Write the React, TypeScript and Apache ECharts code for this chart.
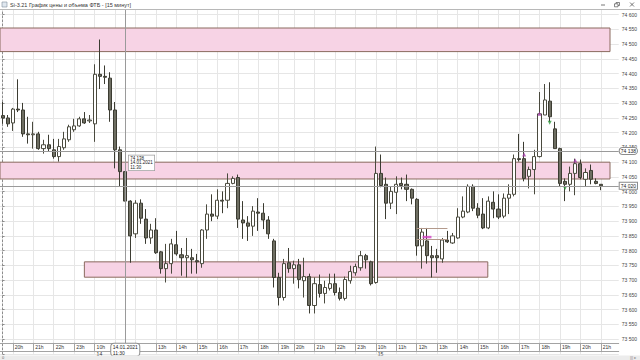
import React, { useEffect, useRef } from 'react';
import * as echarts from 'echarts';

const FONT = '"Liberation Sans", "DejaVu Sans", Arial, sans-serif';
const TITLE = 'Si-3.21 График цены и объема ФТБ - [15 минут]';

// trading sessions shown on the time axis (15-minute candles)
const SESSIONS: [string, string, string][] = [
  ['13.01.2021', '19:30', '23:45'],
  ['14.01.2021', '10:00', '18:45'],
  ['14.01.2021', '19:00', '19:30'],
  ['14.01.2021', '20:00', '23:45'],
  ['15.01.2021', '10:00', '18:45'],
  ['15.01.2021', '19:00', '21:45'],
];

// [open, close, low, high]
const candles: number[][] = [
  [74258, 74250, 74230, 74304],
  [74250, 74230, 74220, 74260],
  [74233, 74280, 74206, 74284],
  [74280, 74277, 74270, 74381],
  [74277, 74196, 74186, 74301],
  [74196, 74193, 74163, 74254],
  [74193, 74196, 74146, 74237],
  [74196, 74146, 74142, 74203],
  [74146, 74159, 74129, 74176],
  [74159, 74146, 74136, 74193],
  [74142, 74119, 74112, 74179],
  [74119, 74153, 74102, 74179],
  [74149, 74179, 74142, 74203],
  [74176, 74220, 74169, 74227],
  [74210, 74223, 74203, 74247],
  [74223, 74247, 74220, 74254],
  [74247, 74233, 74230, 74270],
  [74240, 74243, 74233, 74260],
  [74230, 74398, 74169, 74432],
  [74398, 74391, 74348, 74516],
  [74391, 74388, 74365, 74428],
  [74385, 74277, 74237, 74405],
  [74277, 74142, 74079, 74304],
  [74142, 74068, 74018, 74153],
  [74068, 73968, 73934, 74126],
  [73968, 73850, 73759, 73971],
  [73857, 73961, 73843, 73971],
  [73961, 73910, 73891, 73974],
  [73907, 73843, 73823, 73941],
  [73843, 73870, 73823, 73891],
  [73870, 73793, 73789, 73910],
  [73796, 73739, 73722, 73799],
  [73739, 73756, 73692, 73823],
  [73756, 73823, 73722, 73840],
  [73820, 73789, 73783, 73867],
  [73786, 73776, 73715, 73809],
  [73776, 73783, 73709, 73843],
  [73776, 73769, 73722, 73806],
  [73766, 73762, 73722, 73789],
  [73756, 73870, 73742, 73873],
  [73870, 73924, 73840, 73957],
  [73924, 73917, 73900, 73991],
  [73917, 73971, 73907, 74008],
  [73971, 73968, 73927, 74001],
  [73971, 74028, 73944, 74062],
  [74028, 74045, 74025, 74052],
  [74048, 73907, 73877, 74058],
  [73904, 73894, 73840, 73968],
  [73894, 73883, 73833, 73917],
  [73883, 73934, 73850, 73951],
  [73931, 73927, 73867, 73978],
  [73927, 73904, 73873, 73961],
  [73904, 73857, 73840, 73917],
  [73833, 73709, 73675, 73840],
  [73709, 73641, 73614, 73725],
  [73641, 73756, 73631, 73772],
  [73759, 73739, 73725, 73809],
  [73739, 73752, 73688, 73766],
  [73752, 73702, 73672, 73772],
  [73698, 73712, 73641, 73776],
  [73712, 73614, 73587, 73722],
  [73614, 73688, 73587, 73709],
  [73685, 73655, 73641, 73719],
  [73655, 73675, 73621, 73698],
  [73672, 73688, 73665, 73722],
  [73688, 73658, 73648, 73722],
  [73658, 73638, 73631, 73675],
  [73638, 73702, 73631, 73712],
  [73698, 73729, 73688, 73749],
  [73725, 73746, 73715, 73756],
  [73742, 73783, 73732, 73799],
  [73783, 73769, 73739, 73789],
  [73762, 73688, 73682, 73766],
  [73692, 74062, 73688, 74153],
  [74062, 74021, 74015, 74126],
  [74025, 73961, 73907, 74048],
  [73961, 74001, 73941, 74018],
  [73998, 74025, 73924, 74052],
  [74028, 74021, 74008, 74048],
  [74025, 74008, 73968, 74058],
  [74008, 73978, 73957, 74011],
  [73974, 73816, 73783, 73978],
  [73816, 73863, 73739, 73877],
  [73833, 73783, 73756, 73877],
  [73783, 73776, 73709, 73816],
  [73783, 73776, 73725, 73806],
  [73772, 73836, 73759, 73843],
  [73836, 73830, 73826, 73867],
  [73826, 73850, 73823, 73860],
  [73843, 73914, 73840, 73944],
  [73914, 73934, 73910, 73984],
  [73931, 74018, 73927, 74025],
  [74018, 73944, 73934, 74025],
  [73944, 73920, 73910, 73961],
  [73924, 73877, 73873, 73978],
  [73877, 73968, 73873, 73984],
  [73964, 73941, 73910, 74001],
  [73941, 73914, 73907, 73991],
  [73917, 73978, 73910, 73994],
  [73978, 73991, 73924, 74025],
  [73991, 74112, 73984, 74126],
  [74112, 74109, 74102, 74196],
  [74112, 74045, 74035, 74169],
  [74052, 74075, 74011, 74085],
  [74075, 74119, 73991, 74142],
  [74119, 74264, 74116, 74338],
  [74260, 74311, 74260, 74365],
  [74307, 74254, 74237, 74371],
  [74213, 74146, 74146, 74237],
  [74146, 74028, 74018, 74149],
  [74035, 74025, 73968, 74045],
  [74025, 74062, 74001, 74085],
  [74062, 74095, 73988, 74112],
  [74095, 74048, 74042, 74109],
  [74042, 74065, 74018, 74079],
  [74072, 74042, 74025, 74092],
  [74035, 74028, 74025, 74045],
  [74025, 74020, 74005, 74025],
];

// price axis
const PRICE_MIN = 73450;
const PRICE_MAX = 74650;
const PRICE_STEP = 50;

// support / resistance zones: [fromIndex, toIndex, low, high]
const zones: number[][] = [
  [-0.5, 118.8, 74475, 74555],
  [-0.5, 118.8, 74043, 74100],
  [16.0, 94.9, 73710, 73762],
];

// pending order levels: [fromIndex, toIndex, price]
const orderLevels: number[][] = [
  [81, 87, 73877],
  [81, 87, 73840],
];

// signal markers: [index, price]
const purpleMarks: number[][] = [[102, 74126], [105, 74264], [112, 74106]];
const greenMarks: number[][] = [[107, 74234], [110, 74012]];
const orderMarks: number[][] = [[83, 73846]];

const CROSS_TIME = '14.01.2021 11:30';
const CROSS_PRICE = 74138;
const LAST_PRICE = 74020;

function buildCategories(): string[] {
  const out: string[] = [];
  const toMin = (s: string) => parseInt(s.slice(0, 2), 10) * 60 + parseInt(s.slice(3), 10);
  for (const [d, a, b] of SESSIONS) {
    for (let m = toMin(a); m <= toMin(b); m += 15) {
      const hh = String(Math.floor(m / 60)).padStart(2, '0');
      const mm = String(m % 60).padStart(2, '0');
      out.push(`${d} ${hh}:${mm}`);
    }
  }
  return out;
}

const categories = buildCategories();
const fmt = (v: number) => String(Math.round(v)).replace(/\B(?=(\d{3})+(?!\d))/g, ' ');

function buildOption(): any {
  const crossIdx = categories.indexOf(CROSS_TIME);
  const isHour = (i: number) => categories[i] !== undefined && categories[i].endsWith(':00');
  // the hour label under the crosshair's date box is hidden by that box
  const isHourLabel = (i: number) => isHour(i) && Math.abs(i - crossIdx) > 3;
  const isDayStart = (i: number) =>
    i > 0 && categories[i] !== undefined && categories[i].slice(0, 10) !== categories[i - 1].slice(0, 10);
  const n = categories.length;

  const labelBox = {
    color: '#222',
    backgroundColor: '#ffffff',
    borderColor: '#8c8c8c',
    borderWidth: 1,
    fontFamily: FONT,
  };

  return {
    animation: false,
    backgroundColor: '#ffffff',
    textStyle: { fontFamily: FONT },
    grid: { left: 0, right: 17.5, top: -2.86, bottom: 6.14 },
    axisPointer: { triggerOn: 'none' },
    xAxis: [
      {
        type: 'category',
        data: categories,
        boundaryGap: true,
        position: 'bottom',
        offset: -11,
        axisLine: { lineStyle: { color: '#a3a3a3', width: 1 } },
        axisTick: {
          show: true,
          alignWithLabel: true,
          interval: (i: number) => isHour(i),
          length: 8,
          lineStyle: { color: '#a3a3a3' },
        },
        axisLabel: {
          interval: (i: number) => isHourLabel(i),
          formatter: (v: string) => `${parseInt(v.slice(11, 13), 10)}h`,
          align: 'left',
          padding: [0, 0, 0, 2],
          margin: 2,
          fontSize: 5,
          color: '#333',
          fontFamily: FONT,
        },
        splitLine: {
          show: true,
          interval: (i: number) => isHour(i),
          alignWithLabel: true,
          lineStyle: { color: '#e6e6e6', width: 1 },
        },
        axisPointer: {
          show: true,
          type: 'line',
          status: 'show',
          value: crossIdx,
          snap: false,
          triggerTooltip: false,
          lineStyle: { color: '#9a9a9a', width: 1, type: 'solid' },
          label: {
            show: true,
            formatter: () => `${CROSS_TIME.slice(0, 10)}\n${CROSS_TIME.slice(11)}`,
            fontSize: 5,
            lineHeight: 5.5,
            padding: [0.5, 1.5],
            margin: 1,
            ...labelBox,
          },
        },
      },
      {
        type: 'category',
        data: categories,
        boundaryGap: true,
        position: 'bottom',
        offset: -3,
        axisLine: { lineStyle: { color: '#a3a3a3', width: 1 } },
        axisTick: { show: false },
        axisLabel: {
          interval: (i: number) => isDayStart(i),
          formatter: (v: string) => v.slice(0, 2),
          align: 'left',
          padding: [0, 0, 0, 2],
          margin: 1,
          fontSize: 5,
          color: '#333',
          fontFamily: FONT,
        },
        splitLine: { show: false },
      },
      { type: 'value', min: -0.5, max: n - 0.5, show: false },
    ],
    yAxis: {
      type: 'value',
      position: 'right',
      min: PRICE_MIN,
      max: PRICE_MAX,
      interval: PRICE_STEP,
      axisLine: { show: true, lineStyle: { color: '#8c8c8c', type: [2, 2] } },
      axisTick: { show: true, length: 2, lineStyle: { color: '#8c8c8c' } },
      axisLabel: {
        margin: 3,
        fontSize: 5,
        color: '#444',
        fontFamily: FONT,
        formatter: (v: number) => (v <= PRICE_MIN || v >= PRICE_MAX ? '' : fmt(v)),
      },
      splitLine: { lineStyle: { color: '#e6e6e6', width: 1 } },
      axisPointer: {
        show: true,
        type: 'line',
        status: 'show',
        value: CROSS_PRICE,
        snap: false,
        triggerTooltip: false,
        lineStyle: { color: '#9a9a9a', width: 1, type: 'solid' },
        label: {
          show: true,
          formatter: () => fmt(CROSS_PRICE),
          fontSize: 5,
          padding: [0.5, 1],
          margin: 1,
          ...labelBox,
        },
      },
    },
    series: [
      {
        type: 'line',
        name: 'zones',
        xAxisIndex: 2,
        yAxisIndex: 0,
        data: [],
        z: 1,
        silent: true,
        markArea: {
          silent: true,
          itemStyle: { color: '#f7d3e5', borderColor: '#8a6a5e', borderWidth: 1 },
          data: zones.map(([a, b, lo, hi]) => [
            { xAxis: a, yAxis: hi },
            { xAxis: b, yAxis: lo },
          ]),
        },
      },
      {
        type: 'candlestick',
        name: 'Si-3.21',
        xAxisIndex: 0,
        yAxisIndex: 0,
        data: candles,
        barWidth: 3.6,
        z: 3,
        itemStyle: {
          color: '#ffffff',
          color0: '#6e6e62',
          borderColor: '#4a4a3e',
          borderColor0: '#3c3c32',
          borderWidth: 1,
        },
        markLine: {
          silent: true,
          symbol: ['none', 'none'],
          data: [
            {
              yAxis: LAST_PRICE,
              lineStyle: { color: '#9a9a9a', width: 1, type: 'solid' },
              label: {
                show: true,
                position: 'end',
                distance: 1,
                formatter: () => fmt(LAST_PRICE),
                fontSize: 5,
                padding: [0.5, 1],
                ...labelBox,
              },
            },
            ...orderLevels.map(([a, b, p]) => [
              {
                coord: [a, p],
                lineStyle: { color: '#b39a8c', width: 1, type: 'solid' },
                label: { show: false },
              },
              { coord: [b, p] },
            ]),
          ],
        },
        markPoint: {
          silent: true,
          symbol: 'rect',
          symbolSize: 1,
          itemStyle: { color: 'rgba(0,0,0,0)' },
          data: [
            {
              coord: [crossIdx, CROSS_PRICE],
              label: {
                show: true,
                position: [4, 5],
                formatter: () => `${fmt(CROSS_PRICE)}\n${CROSS_TIME.slice(0, 10)}\n${CROSS_TIME.slice(11)}`,
                fontSize: 4.5,
                lineHeight: 4.6,
                align: 'left',
                verticalAlign: 'top',
                padding: [0.5, 1.5],
                color: '#222',
                backgroundColor: '#ffffff',
                borderColor: '#9a9a9a',
                borderWidth: 0.7,
                fontFamily: FONT,
              },
            },
          ],
        },
      },
      {
        type: 'scatter',
        name: 'up',
        xAxisIndex: 0,
        yAxisIndex: 0,
        data: purpleMarks,
        symbol: 'triangle',
        symbolSize: 4,
        z: 4,
        itemStyle: { color: '#a43aa8' },
      },
      {
        type: 'scatter',
        name: 'down',
        xAxisIndex: 0,
        yAxisIndex: 0,
        data: greenMarks,
        symbol: 'triangle',
        symbolRotate: 180,
        symbolSize: 4,
        z: 4,
        itemStyle: { color: '#2e9a3c' },
      },
      {
        type: 'scatter',
        name: 'order',
        xAxisIndex: 0,
        yAxisIndex: 0,
        data: orderMarks,
        symbol: 'rect',
        symbolSize: [9, 2.5],
        z: 4,
        itemStyle: { color: '#d442c6' },
      },
    ],
    graphic: [
      { type: 'rect', shape: { x: 0, y: 0, width: 640, height: 9.5 }, style: { fill: '#ffffff' }, z: 100, silent: true },
      { type: 'line', shape: { x1: 0, y1: 9.5, x2: 640, y2: 9.5 }, style: { stroke: '#b8b8b8', lineWidth: 1 }, z: 101, silent: true },
      { type: 'rect', shape: { x: 2, y: 2, width: 5, height: 5 }, style: { fill: '#dfe7ef', stroke: '#7f8d9b', lineWidth: 0.6 }, z: 101, silent: true },
      {
        type: 'text', x: 10, y: 4.8, z: 101, silent: true,
        style: { text: TITLE, fontSize: 5.5, fill: '#333', verticalAlign: 'middle', fontFamily: FONT },
      },
      { type: 'line', shape: { x1: 601, y1: 5, x2: 605, y2: 5 }, style: { stroke: '#555', lineWidth: 0.8 }, z: 101, silent: true },
      { type: 'rect', shape: { x: 616, y: 2.5, width: 3.5, height: 3 }, style: { fill: 'none', stroke: '#555', lineWidth: 0.7 }, z: 101, silent: true },
      { type: 'rect', shape: { x: 614.5, y: 3.8, width: 3.5, height: 3 }, style: { fill: '#fff', stroke: '#555', lineWidth: 0.7 }, z: 102, silent: true },
      { type: 'line', shape: { x1: 630, y1: 2.5, x2: 634, y2: 6.5 }, style: { stroke: '#555', lineWidth: 0.8 }, z: 101, silent: true },
      { type: 'line', shape: { x1: 634, y1: 2.5, x2: 630, y2: 6.5 }, style: { stroke: '#555', lineWidth: 0.8 }, z: 101, silent: true },
      { type: 'rect', shape: { x: 0, y: 355.5, width: 640, height: 4.5 }, style: { fill: '#ececec' }, z: 100, silent: true },
      {
        type: 'text', x: 2, y: 357.8, z: 101, silent: true,
        style: { text: '0', fontSize: 4, fill: '#666', verticalAlign: 'middle', fontFamily: FONT },
      },
      {
        type: 'text', x: 630, y: 357.8, z: 101, silent: true,
        style: { text: '||| ▸', fontSize: 4, fill: '#888', verticalAlign: 'middle', fontFamily: FONT },
      },
    ],
  };
}

export default function App() {
  const ref = useRef<HTMLDivElement>(null);
  useEffect(() => {
    if (!ref.current) return;
    const chart = echarts.init(ref.current, undefined, { renderer: 'svg', width: 640, height: 360 });
    chart.setOption(buildOption());
    return () => chart.dispose();
  }, []);
  return (
    <div
      ref={ref}
      style={{ position: 'fixed', left: 0, top: 0, width: 640, height: 360, background: '#ffffff' }}
    />
  );
}
